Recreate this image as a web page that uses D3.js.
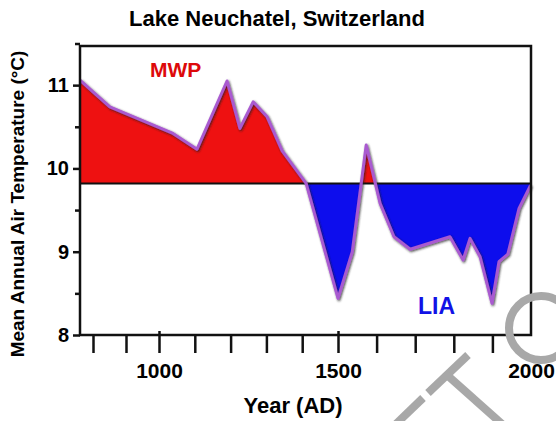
<!DOCTYPE html>
<html>
<head>
<meta charset="utf-8">
<script src="https://cdn.jsdelivr.net/npm/d3@7/dist/d3.min.js"></script>
<style>
  body { margin: 0; background: #fff; }
  svg { display: block; font-family: "Liberation Sans", Arial, sans-serif; }
</style>
</head>
<body>
<svg id="chart" width="556" height="421"></svg>
<script>
// reconstruction (year AD, mean annual air temp degC)
var years = [760, 800, 851, 1039, 1106, 1190, 1226, 1263, 1302, 1344, 1411, 1500, 1537,
             1573, 1609, 1645, 1687, 1790, 1824, 1842, 1868, 1899, 1917, 1940, 1969, 1999];
var temps = [11.06, 10.92, 10.74, 10.42, 10.23, 11.05, 10.48, 10.80, 10.62, 10.21, 9.82, 8.44, 9.00,
             10.28, 9.58, 9.18, 9.03, 9.18, 8.90, 9.16, 8.94, 8.38, 8.88, 8.97, 9.52, 9.80];
var baseline = 9.82;
var xTicks = [800, 900, 1000, 1100, 1200, 1300, 1400, 1500, 1600, 1700, 1800, 1900, 2000];
var xLabels = [1000, 1500, 2000];
var yTicks = [8, 8.5, 9, 9.5, 10, 10.5, 11, 11.5];
var yLabels = [8, 9, 10, 11];

var svg = d3.select("#chart");
var mLeft = 80, mRight = 531, mTop = 46, mBottom = 335;

// the original axis is not quite evenly spaced, so a piecewise scale
var x = d3.scaleLinear()
  .domain([760, 800, 1000, 1500, 2000])
  .range([mLeft, 93, 159, 338, mRight]);
var y = d3.scaleLinear().domain([8, 11.47]).range([mBottom, mTop]);

var data = years.map(function (d, i) { return { year: d, t: temps[i] }; });

//阴影
var defs = svg.append("defs");
var f = defs.append("filter").attr("id", "shadow")
  .attr("x", "-5%").attr("y", "-5%").attr("width", "110%").attr("height", "110%");
f.append("feDropShadow").attr("dx", 1).attr("dy", 1.2)
  .attr("stdDeviation", 0.9).attr("flood-color", "#222").attr("flood-opacity", 0.8);

defs.append("clipPath").attr("id", "above").append("rect")
  .attr("x", mLeft).attr("y", mTop).attr("width", mRight - mLeft).attr("height", y(baseline) - mTop);
defs.append("clipPath").attr("id", "below").append("rect")
  .attr("x", mLeft).attr("y", y(baseline)).attr("width", mRight - mLeft).attr("height", mBottom - y(baseline));

var area = d3.area()
  .x(function (d) { return x(d.year); })
  .y0(y(baseline))
  .y1(function (d) { return y(d.t); });

svg.append("path").datum(data).attr("d", area)
  .attr("fill", "#ee1111").attr("clip-path", "url(#above)");
svg.append("path").datum(data).attr("d", area)
  .attr("fill", "#0d0ded").attr("clip-path", "url(#below)");

// baseline
svg.append("line")
  .attr("x1", mLeft).attr("x2", mRight)
  .attr("y1", y(baseline)).attr("y2", y(baseline))
  .attr("stroke", "#111").attr("stroke-width", 2);

var line = d3.line()
  .x(function (d) { return x(d.year); })
  .y(function (d) { return y(d.t); });

svg.append("path").datum(data).attr("d", line)
  .attr("fill", "none")
  .attr("stroke", "#a95ad0")
  .attr("stroke-width", 3)
  .attr("stroke-linejoin", "round")
  .attr("filter", "url(#shadow)");

// frame
svg.append("rect")
  .attr("x", mLeft).attr("y", mTop)
  .attr("width", mRight - mLeft).attr("height", mBottom - mTop)
  .attr("fill", "none").attr("stroke", "#111").attr("stroke-width", 2.5);

// x axis
var xAxis = svg.append("g")
  .attr("transform", "translate(0," + mBottom + ")")
  .call(d3.axisBottom(x).tickValues(xTicks).tickSize(18).tickPadding(10)
    .tickFormat(function (d) { return xLabels.indexOf(d) >= 0 ? d : ""; }));
xAxis.select(".domain").remove();
xAxis.selectAll(".tick line").attr("stroke", "#111").attr("stroke-width", 2.5)
  .attr("y1", function (d) { return xLabels.indexOf(d) >= 0 ? -4 : 0; })
  .style("display", function (d) { return d === 2000 ? "none" : null; });
xAxis.selectAll(".tick text")
  .attr("font-size", 21).attr("font-weight", "bold").attr("fill", "#000")
  .attr("font-family", "Liberation Sans, Arial, sans-serif");

// y axis
var yAxis = svg.append("g")
  .attr("transform", "translate(" + mLeft + ",0)")
  .call(d3.axisLeft(y).tickValues(yTicks).tickSize(7).tickPadding(4)
    .tickFormat(function (d) { return yLabels.indexOf(d) >= 0 ? d : ""; }));
yAxis.select(".domain").remove();
yAxis.selectAll(".tick line").attr("stroke", "#111").attr("stroke-width", 2.5)
  .attr("x2", function (d) { return yLabels.indexOf(d) >= 0 ? -7 : -5; });
yAxis.selectAll(".tick text")
  .attr("font-size", 20).attr("font-weight", "bold").attr("fill", "#000")
  .attr("font-family", "Liberation Sans, Arial, sans-serif");

// titles
svg.append("text")
  .attr("x", 277).attr("y", 26)
  .attr("text-anchor", "middle")
  .attr("font-size", 22).attr("font-weight", "bold")
  .text("Lake Neuchatel, Switzerland");

svg.append("text")
  .attr("x", 293).attr("y", 413)
  .attr("text-anchor", "middle")
  .attr("font-size", 22).attr("font-weight", "bold")
  .text("Year (AD)");

svg.append("text")
  .attr("transform", "translate(24,204) rotate(-90)")
  .attr("text-anchor", "middle")
  .attr("font-size", 19).attr("font-weight", "bold")
  .text("Mean Annual Air Temperature (°C)");

svg.append("text")
  .attr("x", 150).attr("y", 77)
  .attr("font-size", 21).attr("font-weight", "bold")
  .attr("fill", "#dd0a0a")
  .text("MWP");

svg.append("text")
  .attr("x", 418).attr("y", 314)
  .attr("font-size", 23).attr("font-weight", "bold")
  .attr("fill", "#1212e6")
  .text("LIA");

// watermark fragments in the corner
var wm = svg.append("g").attr("stroke", "#a8a8a8").attr("fill", "none").attr("stroke-width", 8);
wm.append("circle").attr("cx", 541).attr("cy", 328).attr("r", 32);
wm.append("line").attr("x1", 468).attr("y1", 355).attr("x2", 428).attr("y2", 393);
wm.append("line").attr("x1", 423).attr("y1", 398).attr("x2", 396).attr("y2", 424);
wm.append("line").attr("x1", 447).attr("y1", 375).attr("x2", 502).attr("y2", 424);
</script>
</body>
</html>
